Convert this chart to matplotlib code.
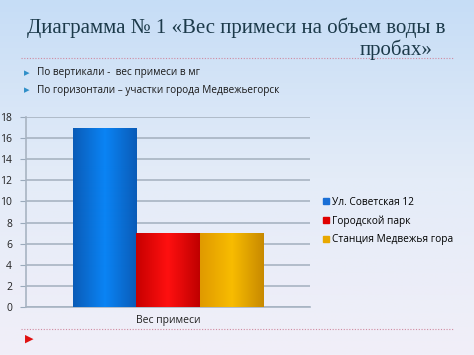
import numpy as np
import matplotlib

matplotlib.use("Agg")
import matplotlib.pyplot as plt
from matplotlib.colors import LinearSegmentedColormap

# data
category = "Вес примеси"
series = ["Ул. Советская 12", "Городской парк", "Станция Медвежья гора"]
values = [17, 7, 7]
yticks = [0, 2, 4, 6, 8, 10, 12, 14, 16, 18]

title = "Диаграмма № 1 «Вес примеси на объем воды в\nпробах»"
bullets = ["По вертикали -  вес примеси в мг",
           "По горизонтали – участки города Медвежьегорск"]

# bar shading: (edge, center, edge)
shades = [("#0a5cb8", "#0a84f5", "#0a5cb8"),
          ("#c80000", "#ff1010", "#c00000"),
          ("#e09a00", "#f8bc00", "#c88a00")]
legend_colors = ["#1a6fd6", "#e00000", "#e8a800"]

W, H = 474, 355
fig = plt.figure(figsize=(W / 100, H / 100), dpi=100)

# slide background gradient
bg = fig.add_axes([0, 0, 1, 1], zorder=-10)
bg_cmap = LinearSegmentedColormap.from_list("bg", ["#c6ddf6", "#e4ecf8", "#f1eff8"])
bg.imshow(np.linspace(0, 1, 256).reshape(-1, 1), aspect="auto", cmap=bg_cmap,
          extent=[0, 1, 0, 1])
bg.set_axis_off()

sans = ["Open Sans", "DejaVu Sans"]
serif = ["Liberation Serif", "DejaVu Serif"]

line1, line2 = title.split("\n")
fig.text(0.057, 0.952, line1, family=serif, fontsize=15, color="#1c3a4a",
         va="top", ha="left")
fig.text(0.912, 0.888, line2, family=serif, fontsize=15, color="#1c3a4a",
         va="top", ha="right")

# dotted separators
fig.add_artist(plt.Line2D([0.045, 0.955], [1 - 58 / H, 1 - 58 / H], color="#d08aa0",
                          lw=0.8, ls=(0, (1, 1.5))))
fig.add_artist(plt.Line2D([0.045, 0.955], [1 - 329 / H, 1 - 329 / H], color="#d08aa0",
                          lw=0.8, ls=(0, (1, 1.5))))

for i, b in enumerate(bullets):
    y = 1 - (73 + 17 * i) / H
    fig.text(0.050, y, "▸", color="#2f8fc8", fontsize=8, va="center", ha="left")
    fig.text(0.078, y, b, family=sans, fontsize=7.2, color="#1a1a1a", va="center")

fig.text(0.052, 1 - 339 / H, "▶", color="#e01010", fontsize=8, va="center", ha="left")

ax = fig.add_axes([26 / W, 1 - 307 / H, 284 / W, 190 / H])
ax.patch.set_alpha(0)
ax.set_yticks(yticks)
ax.set_yticklabels([str(t) for t in yticks], family=sans, fontsize=7.5, color="#222222")
ax.tick_params(axis="y", length=4, color="#9aaabb", pad=6)
ax.set_xticks([0.5])
ax.set_xticklabels([category], family=sans, fontsize=7.5, color="#222222")
ax.tick_params(axis="x", length=0, pad=6)
ax.grid(axis="y", color="#a8b4c2", lw=1.2)
ax.set_axisbelow(True)
for s in ["top", "right"]:
    ax.spines[s].set_visible(False)
for s in ["left", "bottom"]:
    ax.spines[s].set_color("#a8b4c2")
    ax.spines[s].set_linewidth(1.2)

bw = 0.222
x0 = 0.5 - 1.5 * bw
for i, (name, v) in enumerate(zip(series, values)):
    left = x0 + i * bw
    bars = ax.bar(left, v, width=bw, align="edge", color=legend_colors[i], label=name,
                  edgecolor="#00000030", lw=0.6, zorder=2)
    cmap = LinearSegmentedColormap.from_list("b%d" % i, list(shades[i]))
    img = ax.imshow(np.linspace(0, 1, 64).reshape(1, -1), cmap=cmap, aspect="auto",
                    extent=[left, left + bw, 0, v], zorder=3)
    img.set_clip_path(bars[0])
ax.set_xlim(0, 1)
ax.set_ylim(0, 18)

handles = [plt.Rectangle((0, 0), 1, 1, color=c) for c in legend_colors]
fig.legend(handles, series, loc="center left", bbox_to_anchor=(318 / W, 1 - 221 / H),
           frameon=False, prop={"family": sans, "size": 7.3}, handlelength=0.6,
           handleheight=0.6, handletextpad=0.3, labelspacing=0.75, borderpad=0)

fig.savefig("out.png", dpi=100)
